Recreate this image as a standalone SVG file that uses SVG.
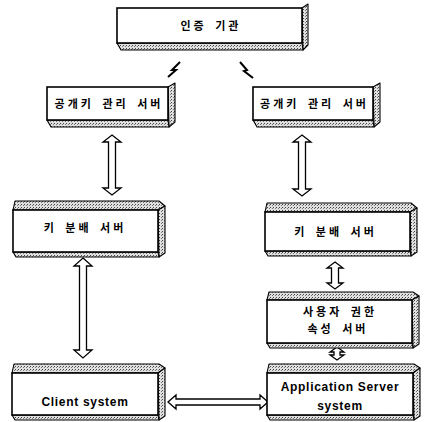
<svg xmlns="http://www.w3.org/2000/svg" width="426" height="422" viewBox="0 0 426 422">
<defs>
<pattern id="st" width="3" height="3" patternUnits="userSpaceOnUse">
<rect width="3" height="3" fill="#e0e0e0"/>
<rect x="0" y="0" width="1" height="1" fill="#444"/>
<rect x="2" y="1" width="1" height="1" fill="#777"/>
</pattern>
</defs>
<style>
.f{fill:#fff;stroke:#000;stroke-width:1.6}
.s{fill:url(#st);stroke:#000;stroke-width:1.1;stroke-linejoin:round}
.a{fill:#fff;stroke:#000;stroke-width:1.3;stroke-linejoin:miter}
.k{font-family:"Noto Sans CJK KR","Noto Sans",sans-serif;font-weight:bold;font-size:11px;letter-spacing:3px;word-spacing:3px;text-anchor:middle;fill:#000}
.e{font-family:"Liberation Sans",Arial,sans-serif;font-weight:bold;font-size:12px;letter-spacing:0.7px;text-anchor:middle;fill:#000}
.b{fill:none;stroke:#000;stroke-width:2;stroke-linejoin:miter}
</style>

<g id="connectors">
<path class="b" d="M180,62 L172,70 L176,70 L168,77"/>
<path class="b" d="M240,62 L247,70 L244,71 L253,78"/>
<polygon class="a" points="112,135 121,142 115.5,142 115.5,188 121,188 112,195 103,188 108.5,188 108.5,142 103,142"/>
<polygon class="a" points="302,135 311,142 305.5,142 305.5,189 311,189 302,196 293,189 298.5,189 298.5,142 293,142"/>
<polygon class="a" points="83,258 92,266 86.5,266 86.5,350 92,350 83,358 74,350 79.5,350 79.5,266 74,266"/>
<polygon class="a" points="335,262 343,268 338.5,268 338.5,283 343,283 335,289 327,283 331.5,283 331.5,268 327,268"/>
<polygon class="a" points="337,347 344,352 340,352 340,355 344,355 337,360 330,355 334,355 334,352 330,352"/>
<polygon class="a" points="168,402 176,395 176,399 260,399 260,395 268,402 260,409 260,405 176,405 176,409"/>
</g>

<g id="n-auth">
<polygon class="s" points="302,8 308,4 308,45 303,50"/>
<polygon class="s" points="117,43 302,43 303,50 121,50"/>
<rect class="f" x="117" y="8" width="185" height="35"/>
<text class="k" x="211" y="29.5">인증 기관</text>
</g>

<g id="n-pkl">
<polygon class="s" points="168,87 175,83 175,122 169,127"/>
<polygon class="s" points="47,120 168,120 169,127 51,127"/>
<rect class="f" x="47" y="87" width="121" height="33"/>
<text class="k" x="109" y="107.5">공개키 관리 서버</text>
</g>

<g id="n-pkr">
<polygon class="s" points="373,87 380,83 380,122 374,127"/>
<polygon class="s" points="253,120 373,120 374,127 257,127"/>
<rect class="f" x="253" y="87" width="120" height="33"/>
<text class="k" x="314.5" y="107.5">공개키 관리 서버</text>
</g>

<g id="n-kdl">
<polygon class="s" points="13,210 15,201 159,201 165,206 158,210"/>
<polygon class="s" points="158,210 165,206 165,253 159,257"/>
<polygon class="s" points="13,252 158,252 159,257 16,257"/>
<rect class="f" x="13" y="210" width="145" height="42"/>
<text class="k" x="85" y="232">키 분배 서버</text>
</g>

<g id="n-kdr">
<polygon class="s" points="265,212 267,203 411,203 417,208 410,212"/>
<polygon class="s" points="410,212 417,208 417,252 411,256"/>
<polygon class="s" points="265,251 410,251 411,256 268,256"/>
<rect class="f" x="265" y="212" width="145" height="39"/>
<text class="k" x="335.5" y="236">키 분배 서버</text>
</g>

<g id="n-attr">
<polygon class="s" points="267,300 269,292 413,292 419,296 412,300"/>
<polygon class="s" points="412,300 419,296 419,344 413,348"/>
<polygon class="s" points="267,343 412,343 413,348 270,348"/>
<rect class="f" x="267" y="300" width="145" height="43"/>
<text class="k" x="340" y="316">사용자 권한</text>
<text class="k" x="338" y="333">속성 서버</text>
</g>

<g id="n-client">
<polygon class="s" points="12,373 14,364 159,364 165,368 158,373"/>
<polygon class="s" points="158,373 165,368 165,416 159,420"/>
<polygon class="s" points="12,415 158,415 159,420 15,420"/>
<rect class="f" x="12" y="373" width="146" height="42"/>
<text class="e" x="85" y="406">Client system</text>
</g>

<g id="n-app">
<polygon class="s" points="267,373 269,364 414,364 420,368 413,373"/>
<polygon class="s" points="413,373 420,368 420,416 414,420"/>
<polygon class="s" points="267,415 413,415 414,420 270,420"/>
<rect class="f" x="267" y="373" width="146" height="42"/>
<text class="e" x="340" y="391">Application Server</text>
<text class="e" x="340" y="410">system</text>
</g>
</svg>
